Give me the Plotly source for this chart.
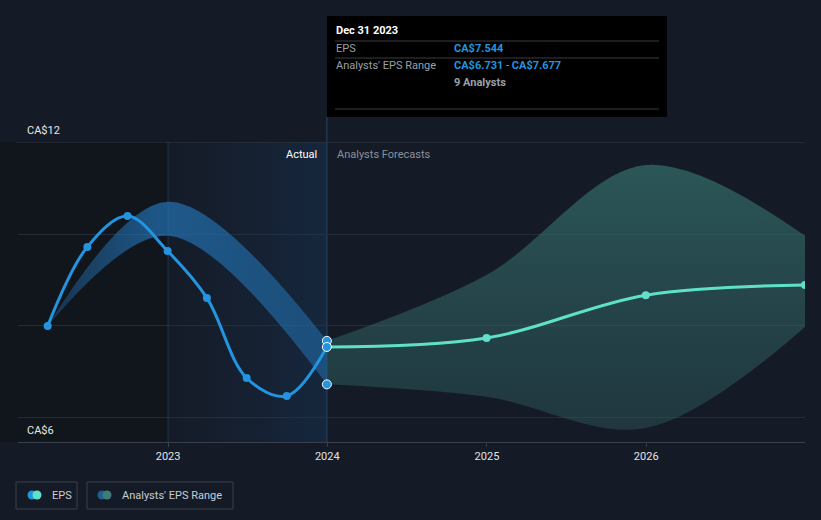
import plotly.graph_objects as go

# ---------------- data ----------------
past_dates = ["2022-03-31", "2022-06-30", "2022-09-30", "2022-12-31",
              "2023-03-31", "2023-06-30", "2023-09-30", "2023-12-31"]
past_eps = [8.00, 9.72, 10.39, 9.63, 8.61, 6.87, 6.48, 7.544]

past_range_dates = ["2022-03-31", "2022-12-31", "2023-12-31"]
past_range_high = [8.00, 10.70, 7.677]
past_range_low = [8.00, 9.96, 6.731]

fc_dates = ["2023-12-31", "2024-12-31", "2025-12-31", "2026-12-31"]
fc_eps = [7.544, 7.74, 8.67, 8.89]
fc_high = [7.677, 9.11, 11.50, 9.96]
fc_low = [6.731, 6.46, 5.78, 7.98]

n_analysts = 9
x_ticks = ["2023-01-01", "2024-01-01", "2025-01-01", "2026-01-01"]
x_tick_labels = ["2023", "2024", "2025", "2026"]
y_grid = [6, 8, 10, 12]
y_labels = ["CA$6", "CA$12"]

# ---------------- style ----------------
BG = "#151b26"
BLUE = "#2394df"
AQUA = "#5fe0c8"
W, H = 821, 520
ML, MR, MT, MB = 18, 16, 142, 78
PW, PH = W - ML - MR, H - MT - MB
X_RANGE = ["2022-01-22", "2026-12-31"]
Y_RANGE = [5.478, 12]
FONT = "Roboto, 'Open Sans', sans-serif"


def px(xp):
    return (xp - ML) / PW


def py(yp):
    return (H - MB - yp) / PH


fig = go.Figure()

# highlighted last-year region (gradient)
fig.add_trace(go.Scatter(
    x=[x_ticks[0], past_dates[-1], past_dates[-1], x_ticks[0], x_ticks[0]],
    y=[Y_RANGE[0], Y_RANGE[0], Y_RANGE[1], Y_RANGE[1], Y_RANGE[0]],
    mode="lines", line=dict(width=0), fill="toself",
    fillgradient=dict(type="horizontal",
                      colorscale=[[0, "rgba(20,45,80,0.05)"], [1, "rgba(22,60,100,0.38)"]]),
    hoverinfo="skip", showlegend=False))

# past analyst range band
fig.add_trace(go.Scatter(x=past_range_dates, y=past_range_high, mode="lines",
                         line=dict(width=0, shape="spline", smoothing=1.0),
                         hoverinfo="skip", showlegend=False))
fig.add_trace(go.Scatter(x=past_range_dates, y=past_range_low, mode="lines",
                         line=dict(width=0, shape="spline", smoothing=1.0),
                         fill="tonexty",
                         fillgradient=dict(type="horizontal",
                                           colorscale=[[0, "rgba(35,110,175,0.35)"],
                                                       [0.4, "rgba(35,118,185,0.68)"],
                                                       [1, "rgba(35,118,185,0.50)"]]),
                         hoverinfo="skip", showlegend=False))

# forecast analyst range band
fig.add_trace(go.Scatter(x=fc_dates, y=fc_high, mode="lines",
                         line=dict(width=0, shape="spline", smoothing=1.0),
                         hoverinfo="skip", showlegend=False))
fig.add_trace(go.Scatter(x=fc_dates, y=fc_low, mode="lines",
                         line=dict(width=0, shape="spline", smoothing=1.0),
                         fill="tonexty",
                         fillgradient=dict(type="vertical",
                                           colorscale=[[0, "rgba(50,100,105,0.38)"],
                                                       [1, "rgba(55,118,113,0.65)"]]),
                         hoverinfo="skip", showlegend=False))

# EPS lines
fig.add_trace(go.Scatter(x=past_dates, y=past_eps, mode="lines+markers",
                         line=dict(color=BLUE, width=3, shape="spline", smoothing=1.0),
                         marker=dict(color=BLUE, size=8),
                         hoverinfo="skip", showlegend=False))
fig.add_trace(go.Scatter(x=fc_dates, y=fc_eps, mode="lines+markers",
                         line=dict(color=AQUA, width=3, shape="spline", smoothing=1.0),
                         marker=dict(color=AQUA, size=8),
                         hoverinfo="skip", showlegend=False))

# hover markers at last actual date
fig.add_trace(go.Scatter(x=[past_dates[-1]] * 3,
                         y=[past_range_high[-1], past_eps[-1], past_range_low[-1]],
                         mode="markers",
                         marker=dict(color=BLUE, size=9, line=dict(color="white", width=1)),
                         hoverinfo="skip", showlegend=False))

shapes = []
# darker past region
shapes.append(dict(type="rect", xref="paper", yref="paper", x0=px(0), x1=px(168),
                   y0=0, y1=1, fillcolor="#11151c", line=dict(width=0), layer="below"))
# top grid line
shapes.append(dict(type="line", xref="paper", yref="y", x0=px(16), x1=1,
                   y0=y_grid[-1], y1=y_grid[-1], line=dict(color="#323844", width=1)))
# boundary lines
shapes.append(dict(type="line", xref="x", yref="paper", x0=x_ticks[0], x1=x_ticks[0],
                   y0=0, y1=1, line=dict(color="#1c3550", width=1), layer="below"))
shapes.append(dict(type="line", xref="x", yref="paper", x0=past_dates[-1], x1=past_dates[-1],
                   y0=0, y1=py(117), line=dict(color="#2a4560", width=1), layer="below"))

# tooltip box
shapes.append(dict(type="rect", xref="paper", yref="paper", x0=px(327), x1=px(667),
                   y0=py(117), y1=py(16), fillcolor="#000000", line=dict(width=0)))
for yy in (41, 58, 109):
    shapes.append(dict(type="line", xref="paper", yref="paper", x0=px(335), x1=px(659),
                       y0=py(yy), y1=py(yy), line=dict(color="#3a3d42", width=1)))

# legend boxes
for x0, x1 in ((16, 77), (87, 233)):
    shapes.append(dict(type="rect", xref="paper", yref="paper", x0=px(x0), x1=px(x1),
                       y0=py(509), y1=py(482), fillcolor="rgba(0,0,0,0)",
                       line=dict(color="#3a404b", width=1)))
for cx, col in ((32, BLUE), (37, AQUA), (102, "#1f5f8f"), (107, "#3f7c77")):
    shapes.append(dict(type="circle", xref="paper", yref="paper",
                       xsizemode="pixel", ysizemode="pixel",
                       xanchor=px(cx), yanchor=py(495),
                       x0=-4.5, x1=4.5, y0=-4.5, y1=4.5,
                       fillcolor=col, line=dict(width=0)))

ann = []
def text(x, y, s, color="#e6e8eb", size=11, xanchor="left"):
    ann.append(dict(xref="paper", yref="paper", x=px(x), y=py(y), text=s,
                    showarrow=False, xanchor=xanchor, yanchor="middle",
                    font=dict(color=color, size=size, family=FONT)))

# y labels
text(25, 130, y_labels[1])
text(25, 430, y_labels[0])
# section labels
text(319, 154, "Actual", color="#ffffff", xanchor="right")
text(335, 154, "Analysts Forecasts", color="#8b9098")
# tooltip text
text(334, 31, "<b>Dec 31 2023</b>", color="#ffffff")
text(334, 49, "EPS", color="#9aa0a6")
text(452, 49, f"<b>CA${past_eps[-1]:.3f}</b>", color=BLUE)
text(334, 66, "Analysts' EPS Range", color="#9aa0a6")
text(452, 66, f"<b><span style='color:{BLUE}'>CA${past_range_low[-1]:.3f}</span></b>"
              f"<span style='color:#9aa0a6'> - </span>"
              f"<b><span style='color:{BLUE}'>CA${past_range_high[-1]:.3f}</span></b>")
text(452, 83, f"<b>{n_analysts} Analysts</b>", color="#9aa0a6")
# legend text
text(50, 495, "EPS", color="#c8ccd2")
text(120, 495, "Analysts' EPS Range", color="#c8ccd2")

fig.update_layout(
    width=W, height=H,
    margin=dict(l=ML, r=MR, t=MT, b=MB, pad=0),
    paper_bgcolor=BG, plot_bgcolor=BG,
    showlegend=False,
    shapes=shapes, annotations=ann,
    font=dict(family=FONT, color="#d8dbe0", size=11),
    xaxis=dict(type="date", range=X_RANGE, tickvals=x_ticks, ticktext=x_tick_labels,
               showgrid=False, zeroline=False, showline=True, linecolor="#3a404b",
               ticks="outside", ticklen=4, tickcolor="#3a404b",
               tickfont=dict(color="#e0e3e8", size=11, family=FONT)),
    yaxis=dict(range=Y_RANGE, tickvals=y_grid, showticklabels=False,
               gridcolor="#262c37", gridwidth=1, zeroline=False, showline=False),
)

fig.write_html("out.html")
